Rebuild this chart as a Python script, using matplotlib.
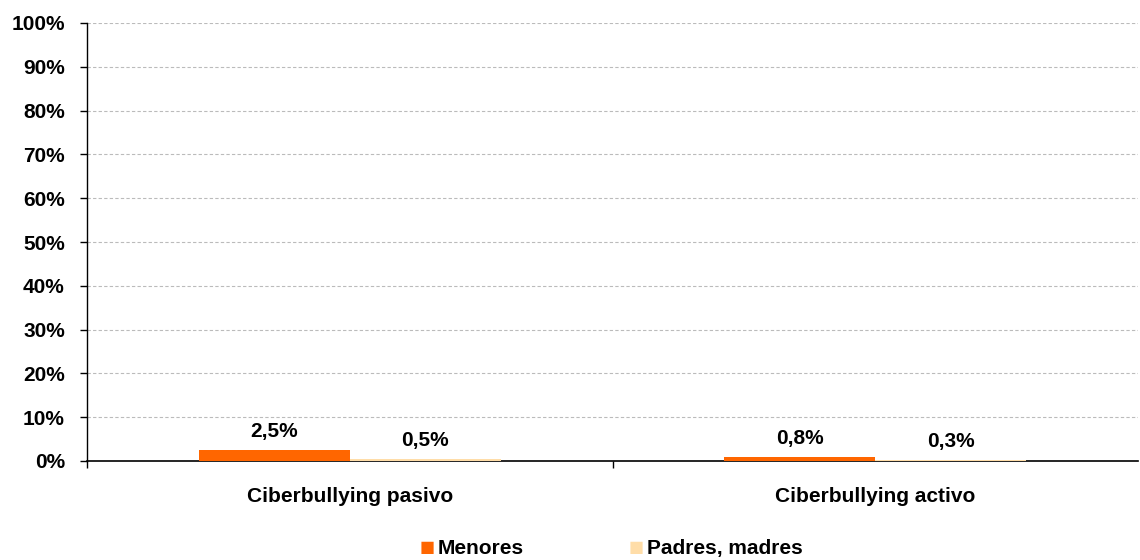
import matplotlib.pyplot as plt

categories = ["Ciberbullying pasivo", "Ciberbullying activo"]
menores = [2.5, 0.8]
padres = [0.5, 0.3]
series_names = ["Menores", "Padres, madres"]
colors = ["#FF6600", "#FFDDA8"]

plt.rcParams["font.family"] = ["Liberation Sans", "DejaVu Sans"]

fig = plt.figure(figsize=(11.4, 5.6), dpi=100)
ax = fig.add_axes([87 / 1140, 99 / 560, 1051 / 1140, 438 / 560])

width = 0.287
x = list(range(len(categories)))
for vals, col, off in [(menores, colors[0], -width / 2), (padres, colors[1], width / 2)]:
    bars = ax.bar([i + off for i in x], vals, width=width, color=col, zorder=3)
    for b, v in zip(bars, vals):
        ax.annotate(f"{v:.1f}%".replace(".", ","), (b.get_x() + b.get_width() / 2, v),
                    xytext=(0, 6.5), textcoords="offset points", ha="center", va="bottom",
                    fontsize=15, fontweight="bold")

ax.set_xlim(-0.5, 1.5)
ax.set_ylim(0, 100)
ax.set_yticks(range(0, 101, 10))
ax.set_yticklabels([f"{t}%" for t in range(0, 101, 10)], fontsize=15, fontweight="bold")
ax.set_xticks(x)
ax.set_xticklabels(categories, fontsize=15, fontweight="bold")
ax.tick_params(axis="x", length=0, pad=19)
ax.set_xticks([-0.5, 0.5], minor=True)
ax.tick_params(axis="x", which="minor", length=5, width=1)
ax.tick_params(axis="y", length=5, width=1, pad=11)
ax.yaxis.grid(True, color="#BBBBBB", linestyle=(0, (3, 2)), linewidth=0.8, zorder=0)
ax.spines["top"].set_visible(False)
ax.spines["right"].set_visible(False)
ax.spines["left"].set_linewidth(1)
ax.spines["bottom"].set_linewidth(1.2)

# legend drawn as text so both entries share one baseline
for name, col, xpos in zip(series_names, colors, [420 / 1140, 629 / 1140]):
    fig.text(xpos, 7.5 / 560, "\u25A0", color=col, fontsize=11.5, family="DejaVu Sans",
             va="baseline", ha="left")
    fig.text(xpos + 18 / 1140, 6 / 560, name, fontsize=15, fontweight="bold",
             va="baseline", ha="left")

fig.savefig("out.png", dpi=100)
